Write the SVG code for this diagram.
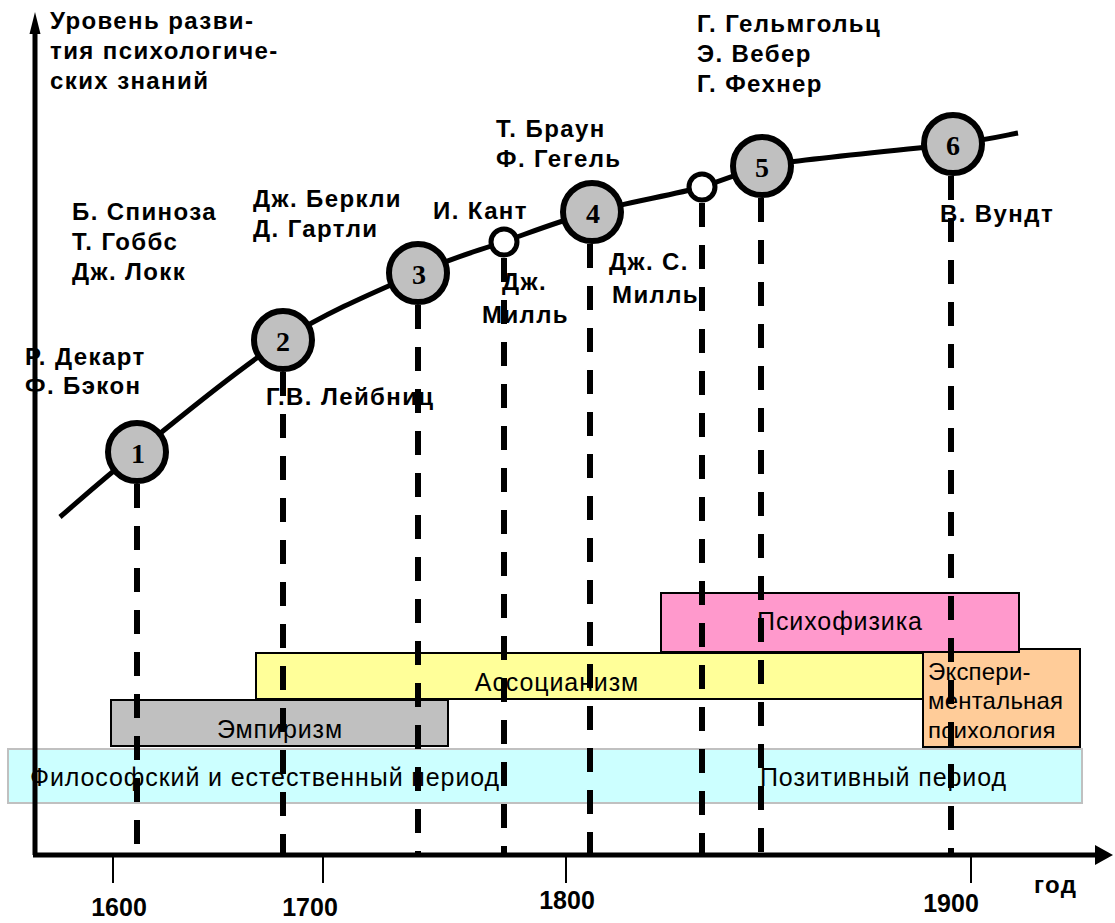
<svg xmlns="http://www.w3.org/2000/svg" width="1115" height="923" viewBox="0 0 1115 923">
<style>
.lbl{font-family:"Liberation Sans",Arial,sans-serif;font-weight:bold;font-size:24px;letter-spacing:1.4px;fill:#000}
.box{font-family:"Liberation Sans",Arial,sans-serif;font-size:25px;letter-spacing:0.9px;fill:#000}
.exp{font-family:"Liberation Sans",Arial,sans-serif;font-size:24px;letter-spacing:0.2px;fill:#000}
.num{font-family:"Liberation Serif","Times New Roman",serif;font-weight:bold;font-size:28px;fill:#000;text-anchor:middle}
.tick{font-family:"Liberation Sans",Arial,sans-serif;font-weight:bold;font-size:25px;fill:#000;text-anchor:middle}
.dash{stroke:#000;stroke-width:6;stroke-dasharray:24 18;fill:none}
.big{fill:#C0C0C0;stroke:#000;stroke-width:6}
.small{fill:#fff;stroke:#000;stroke-width:5}
.bx{stroke:#000;stroke-width:2}
</style>
<defs>
<clipPath id="clipExp"><rect x="923" y="649" width="157" height="89"/></clipPath>
</defs>
<rect width="1115" height="923" fill="#fff"/>

<g id="periods">
<g id="phil"><rect x="8" y="749" width="1074" height="54" fill="#CCFFFF" stroke="#C0C0C0" stroke-width="2"/>
<text class="box" x="30" y="786">Философский и естественный период</text>
<text class="box" x="760" y="786">Позитивный период</text></g>
<g id="empir"><rect class="bx" x="111" y="700" width="337" height="46" fill="#C0C0C0"/>
<text class="box" x="280" y="738" text-anchor="middle">Эмпиризм</text></g>
<g id="assoc"><rect class="bx" x="256" y="653" width="700" height="46" fill="#FFFF99"/>
<text class="box" x="557" y="691" text-anchor="middle">Ассоцианизм</text></g>
<g id="exper"><rect class="bx" x="923" y="649" width="157" height="98" fill="#FFCC99"/>
<g clip-path="url(#clipExp)"><text class="exp" x="928" y="680">Экспери-</text>
<text class="exp" x="928" y="709">ментальная</text>
<text class="exp" x="928" y="739">психология</text></g></g>
<g id="psyphys"><rect class="bx" x="661" y="593" width="358" height="59" fill="#FF99CC"/>
<text class="box" x="840" y="630" text-anchor="middle">Психофизика</text></g>
</g>

<g id="labels">
<text class="lbl" x="50" y="29">Уровень разви-</text>
<text class="lbl" x="50" y="59">тия психологиче-</text>
<text class="lbl" x="50" y="89">ских знаний</text>
<text class="lbl" x="72" y="220">Б. Спиноза</text>
<text class="lbl" x="72" y="250">Т. Гоббс</text>
<text class="lbl" x="72" y="280">Дж. Локк</text>
<text class="lbl" x="25" y="365">Р. Декарт</text>
<text class="lbl" x="25" y="394">Ф. Бэкон</text>
<text class="lbl" x="253" y="207">Дж. Беркли</text>
<text class="lbl" x="253" y="237">Д. Гартли</text>
<text class="lbl" x="266" y="405">Г.В. Лейбниц</text>
<text class="lbl" x="433" y="219">И. Кант</text>
<text class="lbl" x="502" y="290">Дж.</text>
<text class="lbl" x="482" y="323">Милль</text>
<text class="lbl" x="496" y="137">Т. Браун</text>
<text class="lbl" x="496" y="167">Ф. Гегель</text>
<text class="lbl" x="609" y="270">Дж. С.</text>
<text class="lbl" x="612" y="303">Милль</text>
<text class="lbl" x="697" y="32">Г. Гельмгольц</text>
<text class="lbl" x="697" y="62">Э. Вебер</text>
<text class="lbl" x="697" y="92">Г. Фехнер</text>
<text class="lbl" x="940" y="222">В. Вундт</text>
</g>

<g id="connectors">
<line class="dash" x1="137" y1="484" x2="137" y2="853"/>
<line class="dash" x1="283" y1="372" x2="283" y2="853"/>
<line class="dash" x1="418" y1="305" x2="418" y2="853"/>
<line class="dash" x1="504" y1="258" x2="504" y2="853"/>
<line class="dash" x1="590" y1="244" x2="590" y2="853"/>
<line class="dash" x1="702" y1="203" x2="702" y2="853"/>
<line class="dash" x1="761" y1="198" x2="761" y2="853"/>
<line class="dash" x1="951" y1="176" x2="951" y2="853"/>
<path d="M60,517 C72.8,506.2 99.8,481.5 137,452 C174.2,422.5 236.2,369.8 283,340 C329.8,310.2 381.3,289.3 418,273 C454.7,256.7 474,252.2 503,242 C532,231.8 558.8,221.2 592,212 C625.2,202.8 673.7,194.7 702,187 L762,166 C803.8,158.8 910.3,149.5 953,144 C995.7,138.5 1007.2,134.8 1018,133" fill="none" stroke="#000" stroke-width="5"/>
</g>

<g id="axes">
<line x1="35" y1="855" x2="35" y2="30" stroke="#000" stroke-width="5"/>
<polygon points="35,12 29.5,34 40.5,34" fill="#000"/>
<line x1="33" y1="855" x2="1098" y2="855" stroke="#000" stroke-width="5"/>
<polygon points="1113,855 1095,845 1095,865" fill="#000"/>
<g stroke="#000" stroke-width="2">
<line x1="113" y1="857" x2="113" y2="883"/>
<line x1="323" y1="857" x2="323" y2="883"/>
<line x1="566" y1="857" x2="566" y2="883"/>
<line x1="971" y1="857" x2="971" y2="883"/>
</g>
<text class="tick" x="119" y="916">1600</text>
<text class="tick" x="310" y="916">1700</text>
<text class="tick" x="567" y="909">1800</text>
<text class="tick" x="951" y="912">1900</text>
<text class="lbl" x="1034" y="893">год</text>
</g>

<g id="n1"><circle class="big" cx="137" cy="452" r="29"/><text class="num" x="138" y="463">1</text></g>
<g id="n2"><circle class="big" cx="283" cy="340" r="29"/><text class="num" x="283" y="351">2</text></g>
<g id="n3"><circle class="big" cx="418" cy="273" r="29"/><text class="num" x="419" y="284">3</text></g>
<g id="kant"><circle class="small" cx="504" cy="242" r="13"/></g>
<g id="n4"><circle class="big" cx="592" cy="212" r="29"/><text class="num" x="593" y="223">4</text></g>
<g id="mill"><circle class="small" cx="702" cy="187" r="13"/></g>
<g id="n5"><circle class="big" cx="762" cy="166" r="29"/><text class="num" x="762" y="177">5</text></g>
<g id="n6"><circle class="big" cx="953" cy="144" r="29"/><text class="num" x="953" y="155">6</text></g>
</svg>
